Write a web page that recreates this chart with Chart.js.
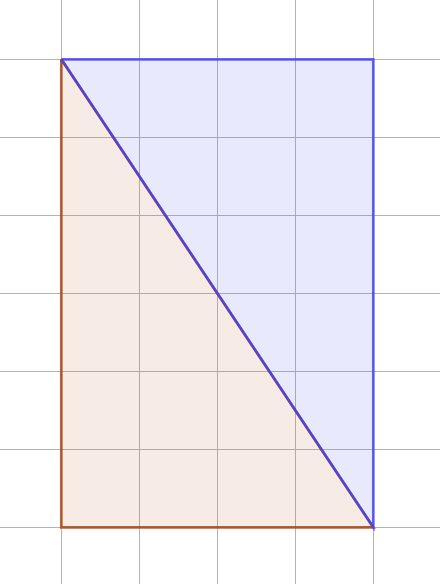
<!DOCTYPE html>
<html>
<head>
<meta charset="utf-8">
<script src="https://cdn.jsdelivr.net/npm/chart.js@4"></script>
<style>
html,body{margin:0;padding:0;background:#fff;}
canvas{display:block;}
</style>
</head>
<body>
<canvas id="c" width="440" height="584"></canvas>
<script>
const lowerX = [0, 0, 4, 0];
const lowerY = [6, 0, 0, 6];
const upperX = [0, 4, 4, 0];
const upperY = [6, 6, 0, 6];
const xTicks = [0, 1, 2, 3, 4];
const yTicks = [0, 1, 2, 3, 4, 5, 6];

const toPts = (xs, ys) => xs.map((x, i) => ({x: x, y: ys[i]}));

new Chart(document.getElementById('c'), {
  type: 'scatter',
  data: {
    datasets: [
      {
        label: 'upper',
        data: toPts(upperX, upperY),
        showLine: true,
        fill: 'shape',
        borderColor: 'rgba(60,60,240,0.78)',
        backgroundColor: 'rgba(90,100,240,0.14)',
        borderWidth: 2.7,
        pointRadius: 0,
        tension: 0,
        order: 0
      },
      {
        label: 'lower',
        data: toPts(lowerX, lowerY),
        showLine: true,
        fill: 'shape',
        borderColor: 'rgba(170,70,25,0.85)',
        backgroundColor: 'rgba(190,110,70,0.14)',
        borderWidth: 2.7,
        pointRadius: 0,
        tension: 0,
        order: 1
      }
    ]
  },
  options: {
    responsive: false,
    animation: false,
    layout: {padding: 0},
    plugins: {legend: {display: false}, tooltip: {enabled: false}},
    scales: {
      x: {
        type: 'linear',
        min: -61.3/78,
        max: (440-61.3)/78,
        afterBuildTicks: s => { s.ticks = xTicks.map(v => ({value: v})); },
        ticks: {display: false},
        border: {display: false},
        grid: {color: '#b3b3b3', lineWidth: 1, drawTicks: false}
      },
      y: {
        type: 'linear',
        min: -56.7/78,
        max: 527.3/78,
        afterBuildTicks: s => { s.ticks = yTicks.map(v => ({value: v})); },
        ticks: {display: false},
        border: {display: false},
        grid: {color: '#b3b3b3', lineWidth: 1, drawTicks: false}
      }
    }
  }
});
</script>
</body>
</html>
